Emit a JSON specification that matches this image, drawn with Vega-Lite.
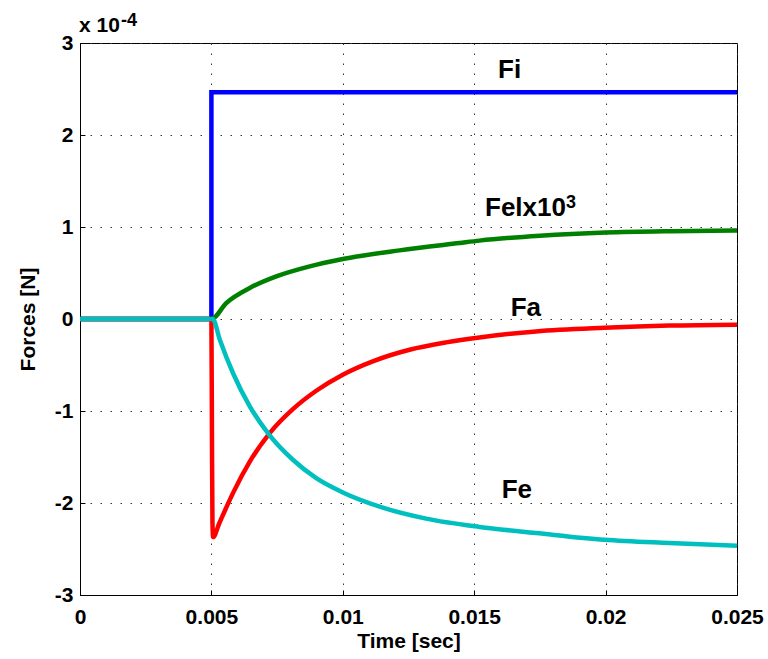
{
  "$schema": "https://vega.github.io/schema/vega-lite/v6.json",
  "width": 657,
  "height": 552,
  "autosize": {"type": "none"},
  "padding": {"left": 80, "top": 43, "right": 31, "bottom": 64},
  "background": "white",
  "config": {
    "view": {"stroke": "black", "strokeWidth": 1},
    "font": "Liberation Sans",
    "axis": {
      "domainColor": "black",
      "domainWidth": 1,
      "tickColor": "black",
      "tickSize": -5,
      "labelFont": "Liberation Sans",
      "labelFontWeight": "bold",
      "labelFontSize": 21,
      "labelColor": "black",
      "titleFont": "Liberation Sans",
      "titleFontWeight": "bold",
      "titleFontSize": 21,
      "titleColor": "black",
      "gridColor": "#333333",
      "gridDash": [1.5, 8.5],
      "gridWidth": 1,
      "gridOpacity": 1
    }
  },
  "datasets": {
    "step": [
      {"series": "Fi", "i": 0, "t": 0, "y": 0},
      {"series": "Fi", "i": 1, "t": 0.005, "y": 0},
      {"series": "Fi", "i": 2, "t": 0.005, "y": 2.465},
      {"series": "Fi", "i": 3, "t": 0.025, "y": 2.465}
    ],
    "curves": [
      {"series": "Fel", "i": 0, "t": 0, "y": 0},
      {"series": "Fel", "i": 1, "t": 0.005, "y": 0},
      {"series": "Fel", "i": 2, "t": 0.00557, "y": 0.174},
      {"series": "Fel", "i": 3, "t": 0.00646, "y": 0.337},
      {"series": "Fel", "i": 4, "t": 0.00747, "y": 0.463},
      {"series": "Fel", "i": 5, "t": 0.00874, "y": 0.572},
      {"series": "Fel", "i": 6, "t": 0.0100, "y": 0.652},
      {"series": "Fel", "i": 7, "t": 0.01216, "y": 0.746},
      {"series": "Fel", "i": 8, "t": 0.01444, "y": 0.826},
      {"series": "Fel", "i": 9, "t": 0.0152, "y": 0.852},
      {"series": "Fel", "i": 10, "t": 0.0175, "y": 0.905},
      {"series": "Fel", "i": 11, "t": 0.0200, "y": 0.94},
      {"series": "Fel", "i": 12, "t": 0.0225, "y": 0.955},
      {"series": "Fel", "i": 13, "t": 0.025, "y": 0.962},

      {"series": "Fa", "i": 0, "t": 0, "y": 0},
      {"series": "Fa", "i": 1, "t": 0.005, "y": 0},
      {"series": "Fa", "i": 2, "t": 0.00502, "y": -1.2},
      {"series": "Fa", "i": 3, "t": 0.00504, "y": -2.2},
      {"series": "Fa", "i": 4, "t": 0.005065, "y": -2.37},
      {"series": "Fa", "i": 5, "t": 0.0053, "y": -2.22},
      {"series": "Fa", "i": 6, "t": 0.00555, "y": -2.06},
      {"series": "Fa", "i": 7, "t": 0.005825, "y": -1.89},
      {"series": "Fa", "i": 8, "t": 0.00646, "y": -1.55},
      {"series": "Fa", "i": 9, "t": 0.00722, "y": -1.24},
      {"series": "Fa", "i": 10, "t": 0.0081, "y": -0.98},
      {"series": "Fa", "i": 11, "t": 0.00899, "y": -0.78},
      {"series": "Fa", "i": 12, "t": 0.0100, "y": -0.605},
      {"series": "Fa", "i": 13, "t": 0.01114, "y": -0.46},
      {"series": "Fa", "i": 14, "t": 0.01254, "y": -0.334},
      {"series": "Fa", "i": 15, "t": 0.01393, "y": -0.254},
      {"series": "Fa", "i": 16, "t": 0.0152, "y": -0.2},
      {"series": "Fa", "i": 17, "t": 0.01735, "y": -0.135},
      {"series": "Fa", "i": 18, "t": 0.01995, "y": -0.096},
      {"series": "Fa", "i": 19, "t": 0.02242, "y": -0.072},
      {"series": "Fa", "i": 20, "t": 0.025, "y": -0.062},

      {"series": "Fe", "i": 0, "t": 0, "y": 0},
      {"series": "Fe", "i": 1, "t": 0.00505, "y": 0},
      {"series": "Fe", "i": 2, "t": 0.00532, "y": -0.225},
      {"series": "Fe", "i": 3, "t": 0.00582, "y": -0.587},
      {"series": "Fe", "i": 4, "t": 0.00646, "y": -0.95},
      {"series": "Fe", "i": 5, "t": 0.00715, "y": -1.24},
      {"series": "Fe", "i": 6, "t": 0.0081, "y": -1.53},
      {"series": "Fe", "i": 7, "t": 0.00899, "y": -1.73},
      {"series": "Fe", "i": 8, "t": 0.0100, "y": -1.885},
      {"series": "Fe", "i": 9, "t": 0.01152, "y": -2.05},
      {"series": "Fe", "i": 10, "t": 0.01317, "y": -2.17},
      {"series": "Fe", "i": 11, "t": 0.0152, "y": -2.26},
      {"series": "Fe", "i": 12, "t": 0.01735, "y": -2.326},
      {"series": "Fe", "i": 13, "t": 0.01995, "y": -2.40},
      {"series": "Fe", "i": 14, "t": 0.02242, "y": -2.435},
      {"series": "Fe", "i": 15, "t": 0.025, "y": -2.464}
    ],
    "bigLabels": [
      {"label": "Fi", "t": 0.015906, "y": 2.623},
      {"label": "Felx10", "t": 0.015411, "y": 1.115},
      {"label": "Fa", "t": 0.016389, "y": 0.028},
      {"label": "Fe", "t": 0.016047, "y": -1.946}
    ],
    "supLabels": [
      {"label": "3", "t": 0.018493, "y": 1.21},
      {"label": "-4", "t": 0.00156, "y": 3.18}
    ],
    "midLabels": [
      {"label": "x 10", "t": -0.00004, "y": 3.115}
    ]
  },
  "layer": [
    {
      "data": {"name": "step"},
      "mark": {"type": "line", "strokeWidth": 4.5, "strokeCap": "butt", "strokeJoin": "miter", "clip": true},
      "encoding": {
        "x": {
          "field": "t", "type": "quantitative",
          "scale": {"domain": [0, 0.025], "nice": false, "zero": false},
          "axis": {
            "title": "Time [sec]",
            "values": [0, 0.005, 0.01, 0.015, 0.02, 0.025],
            "format": "~g",
            "grid": true,
            "labelPadding": 16,
            "titlePadding": 3,
            "labelFlush": false
          }
        },
        "y": {
          "field": "y", "type": "quantitative",
          "scale": {"domain": [-3, 3], "nice": false, "zero": false},
          "axis": {
            "title": "Forces [N]",
            "values": [-3, -2, -1, 0, 1, 2, 3],
            "labelExpr": "'' + datum.value",
            "grid": true,
            "labelPadding": 12,
            "titlePadding": 16
          }
        },
        "color": {
          "field": "series", "type": "nominal",
          "scale": {"domain": ["Fi", "Fel", "Fa", "Fe"], "range": ["#0000ff", "#008000", "#ff0000", "#00bfbf"]},
          "legend": null
        },
        "order": {"field": "i", "type": "quantitative"}
      }
    },
    {
      "data": {"name": "curves"},
      "mark": {"type": "line", "strokeWidth": 4.5, "strokeCap": "butt", "strokeJoin": "round", "interpolate": "monotone", "clip": true},
      "encoding": {
        "x": {"field": "t", "type": "quantitative"},
        "y": {"field": "y", "type": "quantitative"},
        "color": {"field": "series", "type": "nominal"},
        "order": {"field": "i", "type": "quantitative"}
      }
    },
    {
      "data": {"name": "bigLabels"},
      "mark": {"type": "text", "align": "left", "baseline": "alphabetic", "fontSize": 26, "fontWeight": "bold", "font": "Liberation Sans", "color": "black"},
      "encoding": {
        "x": {"field": "t", "type": "quantitative"},
        "y": {"field": "y", "type": "quantitative"},
        "text": {"field": "label"}
      }
    },
    {
      "data": {"name": "supLabels"},
      "mark": {"type": "text", "align": "left", "baseline": "alphabetic", "fontSize": 18, "fontWeight": "bold", "font": "Liberation Sans", "color": "black"},
      "encoding": {
        "x": {"field": "t", "type": "quantitative"},
        "y": {"field": "y", "type": "quantitative"},
        "text": {"field": "label"}
      }
    },
    {
      "data": {"name": "midLabels"},
      "mark": {"type": "text", "align": "left", "baseline": "alphabetic", "fontSize": 21, "fontWeight": "bold", "font": "Liberation Sans", "color": "black"},
      "encoding": {
        "x": {"field": "t", "type": "quantitative"},
        "y": {"field": "y", "type": "quantitative"},
        "text": {"field": "label"}
      }
    }
  ]
}
